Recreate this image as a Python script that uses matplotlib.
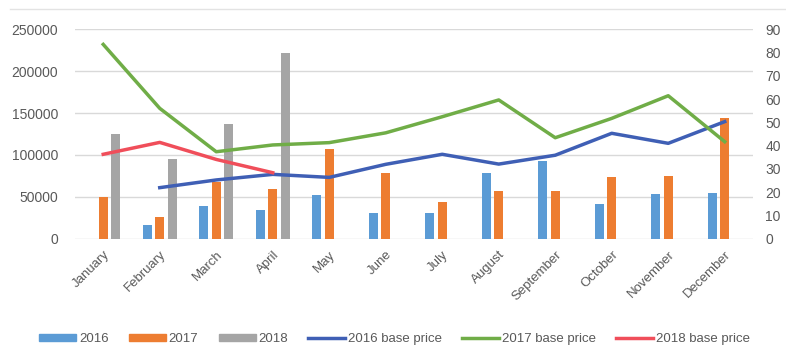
import matplotlib.pyplot as plt
import numpy as np
from matplotlib.lines import Line2D
from matplotlib.patches import Patch

# monthly volumes (left axis) and base prices (right axis)
months = ['January', 'February', 'March', 'April', 'May', 'June', 'July',
          'August', 'September', 'October', 'November', 'December']
vol_2016 = [np.nan, 17000, 39000, 34000, 52000, 31000, 31000,
            79000, 93000, 42000, 53000, 55000]
vol_2017 = [50000, 26000, 68000, 60000, 107000, 78000, 44000,
            57000, 57000, 74000, 75000, 144000]
vol_2018 = [125000, 95000, 137000, 222000, np.nan, np.nan, np.nan,
            np.nan, np.nan, np.nan, np.nan, np.nan]
price_2016 = [np.nan, 22.0, 25.3, 27.7, 26.4, 32.0, 36.3,
              32.1, 35.9, 45.3, 41.0, 50.3]
price_2017 = [83.4, 56.0, 37.4, 40.3, 41.3, 45.5, 52.4,
              59.6, 43.4, 51.7, 61.4, 41.7]
price_2018 = [36.3, 41.4, 34.1, 28.4, np.nan, np.nan, np.nan,
              np.nan, np.nan, np.nan, np.nan, np.nan]

c_blue = '#5B9BD5'
c_orange = '#ED7D31'
c_gray = '#A5A5A5'
c_line16 = '#3F5FB5'
c_line17 = '#70AD47'
c_line18 = '#F04E5A'
txt = '#595959'

plt.rcParams['font.family'] = ['Liberation Sans', 'DejaVu Sans']

fig = plt.figure(figsize=(7.86, 3.56), dpi=100)
ax = fig.add_axes([0.0954, 0.3287, 0.8626, 0.5898])
ax2 = ax.twinx()

x = np.arange(len(months))
w = 0.16
step = 0.22
ax.bar(x - step, vol_2016, w, color=c_blue, zorder=2)
ax.bar(x, vol_2017, w, color=c_orange, zorder=2)
ax.bar(x + step, vol_2018, w, color=c_gray, zorder=2)

ax.set_xlim(-0.5, 11.5)
ax.set_ylim(0, 250000)
ax.set_yticks(np.arange(0, 250001, 50000))
ax.yaxis.grid(True, color='#D9D9D9', lw=1)
ax.set_axisbelow(True)
ax.set_xticks(x)
ax.set_xticklabels(months, rotation=45, ha='right', rotation_mode='anchor')

ax2.plot(x, price_2016, color=c_line16, lw=2.5)
ax2.plot(x, price_2017, color=c_line17, lw=2.5)
ax2.plot(x, price_2018, color=c_line18, lw=2.5)
ax2.set_ylim(0, 90)
ax2.set_yticks(np.arange(0, 91, 10))

for a in (ax, ax2):
    for s in a.spines.values():
        s.set_visible(False)
    a.tick_params(length=0, colors=txt, labelsize=10)
ax.tick_params(axis='y', pad=12)
ax.tick_params(axis='x', pad=7, labelsize=9.5)
ax2.tick_params(axis='y', pad=9)

handles = [Patch(color=c_blue), Patch(color=c_orange), Patch(color=c_gray),
           Line2D([], [], color=c_line16, lw=2.5),
           Line2D([], [], color=c_line17, lw=2.5),
           Line2D([], [], color=c_line18, lw=2.5)]
labels = ['2016', '2017', '2018', '2016 base price', '2017 base price', '2018 base price']
fig.legend(handles, labels, loc='center', bbox_to_anchor=(0.502, 0.047), ncol=6,
           frameon=False, fontsize=9.5, labelcolor=txt, handlelength=2.8,
           handletextpad=0.2, columnspacing=1.55, handleheight=0.5)

# faint chart border line at the top
fig.add_artist(Line2D([0.013, 1.0], [0.974, 0.974], color='#E3E3E3', lw=1))

fig.savefig('out.png', dpi=100)
